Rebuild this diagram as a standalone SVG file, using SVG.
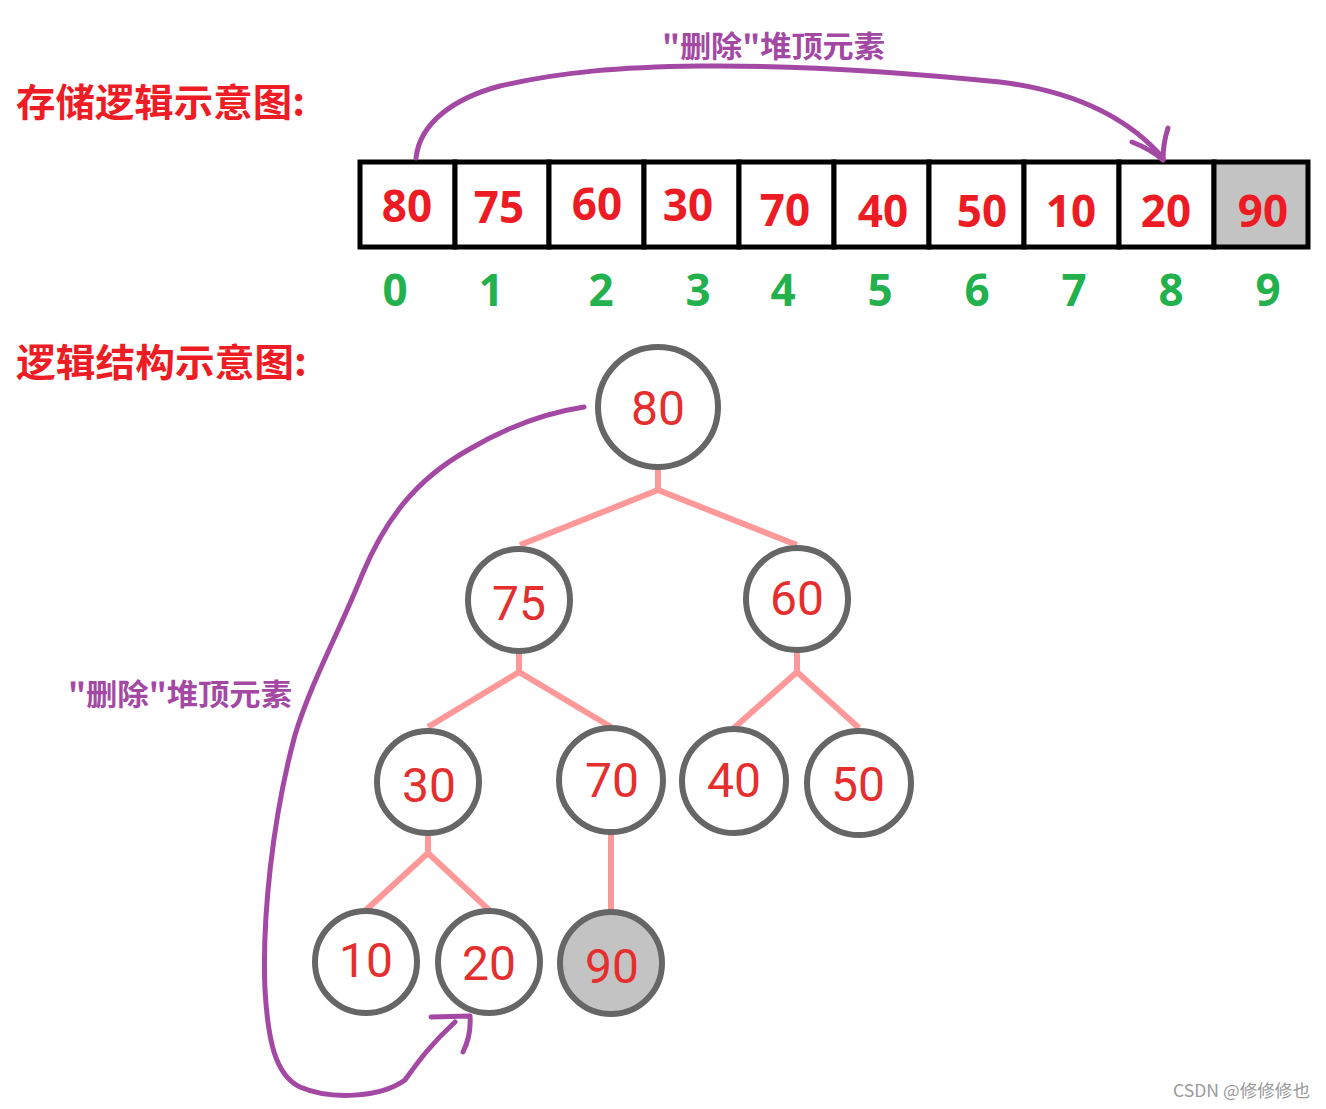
<svg xmlns="http://www.w3.org/2000/svg" width="1326" height="1109" viewBox="0 0 1326 1109">
<style>
.title{font-family:"Noto Sans CJK SC","Noto Sans",sans-serif;font-weight:bold;font-size:38px;fill:#ee1c24}
.lbl{font-family:"Noto Sans CJK SC","Noto Sans",sans-serif;font-weight:bold;font-size:30px;fill:#a349a4}
.cell{fill:#fff;stroke:#000;stroke-width:5}
.cnum{font-family:"Noto Sans","Noto Sans CJK SC",sans-serif;font-weight:bold;font-size:44px;fill:#ed1c24;text-anchor:middle}
.idx{font-family:"Noto Sans","Noto Sans CJK SC",sans-serif;font-weight:bold;font-size:44px;fill:#22b14c;text-anchor:middle}
.node{fill:#fff;stroke:#666;stroke-width:6}
.tnum{font-family:Roboto,"Liberation Sans",sans-serif;font-size:48px;fill:#e52e2e;text-anchor:middle}
.edge{fill:none;stroke:#ff9999;stroke-width:6}
.pur{fill:none;stroke:#a349a4;stroke-width:5;stroke-linecap:round;stroke-linejoin:round}
</style>
<rect width="1326" height="1109" fill="#fff"/>
<text class="title" x="16" y="116" textLength="289" lengthAdjust="spacingAndGlyphs">存储逻辑示意图:</text>
<text class="title" x="16" y="376" textLength="291" lengthAdjust="spacingAndGlyphs">逻辑结构示意图:</text>

<g id="array">
<rect class="cell" x="360" y="162" width="95" height="85"/>
<rect class="cell" x="455" y="162" width="94" height="85"/>
<rect class="cell" x="549" y="162" width="95" height="85"/>
<rect class="cell" x="644" y="162" width="95" height="85"/>
<rect class="cell" x="739" y="162" width="95" height="85"/>
<rect class="cell" x="834" y="162" width="95" height="85"/>
<rect class="cell" x="929" y="162" width="95" height="85"/>
<rect class="cell" x="1024" y="162" width="95" height="85"/>
<rect class="cell" x="1119" y="162" width="95" height="85"/>
<rect class="cell" x="1214" y="162" width="94" height="85" style="fill:#c3c3c3"/>
<text class="cnum" x="407" y="222">80</text>
<text class="cnum" x="499" y="223">75</text>
<text class="cnum" x="597" y="220">60</text>
<text class="cnum" x="688" y="221">30</text>
<text class="cnum" x="785" y="226">70</text>
<text class="cnum" x="883" y="227">40</text>
<text class="cnum" x="982" y="227">50</text>
<text class="cnum" x="1071" y="227">10</text>
<text class="cnum" x="1166" y="227">20</text>
<text class="cnum" x="1263" y="227">90</text>
<text class="idx" x="395" y="306">0</text>
<text class="idx" x="491" y="306">1</text>
<text class="idx" x="601" y="306">2</text>
<text class="idx" x="698" y="306">3</text>
<text class="idx" x="783" y="306">4</text>
<text class="idx" x="880" y="306">5</text>
<text class="idx" x="977" y="306">6</text>
<text class="idx" x="1074" y="306">7</text>
<text class="idx" x="1171" y="306">8</text>
<text class="idx" x="1268" y="306">9</text>
</g>

<g id="connectors">
<polyline class="edge" points="520,545 658,490 797,545"/>
<line class="edge" x1="658" y1="468" x2="658" y2="490"/>
<polyline class="edge" points="428,727 519,672 611,727"/>
<line class="edge" x1="519" y1="650" x2="519" y2="672"/>
<polyline class="edge" points="734,728 797,672 859,728"/>
<line class="edge" x1="797" y1="650" x2="797" y2="672"/>
<polyline class="edge" points="366,910 428,853 489,910"/>
<line class="edge" x1="428" y1="832" x2="428" y2="853"/>
<line class="edge" x1="611" y1="830" x2="611" y2="912"/>
</g>

<g id="n80"><circle class="node" cx="658" cy="407" r="60"/><text class="tnum" x="658" y="425">80</text></g>
<g id="n75"><circle class="node" cx="519" cy="600" r="51"/><text class="tnum" x="519" y="620">75</text></g>
<g id="n60"><circle class="node" cx="797" cy="599" r="51"/><text class="tnum" x="797" y="615">60</text></g>
<g id="n30"><circle class="node" cx="428" cy="782" r="51"/><text class="tnum" x="429" y="802">30</text></g>
<g id="n70"><circle class="node" cx="611" cy="780" r="52"/><text class="tnum" x="612" y="797">70</text></g>
<g id="n40"><circle class="node" cx="734" cy="781" r="52"/><text class="tnum" x="734" y="797">40</text></g>
<g id="n50"><circle class="node" cx="859" cy="783" r="52"/><text class="tnum" x="858" y="801">50</text></g>
<g id="n10"><circle class="node" cx="366" cy="962" r="51"/><text class="tnum" x="366" y="977">10</text></g>
<g id="n20"><circle class="node" cx="489" cy="962" r="51"/><text class="tnum" x="489" y="980">20</text></g>
<g id="n90"><circle class="node" cx="611" cy="963" r="51" style="fill:#c3c3c3"/><text class="tnum" x="612" y="983">90</text></g>

<g id="annotations">
<path class="pur" d="M416,158 C420,122 455,98 500,86 C560,72 620,67 700,66 C800,65 900,72 1000,82 C1080,92 1130,120 1163,158"/>
<path class="pur" d="M1168,128 C1164,140 1163,150 1163,160 M1132,142 C1145,147 1155,153 1163,160"/>
<text class="lbl" x="662" y="57" textLength="223" lengthAdjust="spacingAndGlyphs">"删除"堆顶元素</text>
<path class="pur" d="M584,407 C545,413 505,428 468,450 C415,480 385,520 362,575 C340,630 312,680 295,735 C272,820 262,920 265,990 C268,1040 275,1075 300,1087 C330,1100 380,1098 405,1080 C418,1062 430,1045 455,1022"/>
<path class="pur" d="M431,1017 L470,1016 C471,1030 468,1042 463,1052"/>
<text class="lbl" x="68" y="705" textLength="224" lengthAdjust="spacingAndGlyphs">"删除"堆顶元素</text>
</g>
<text x="1173" y="1097" textLength="137" lengthAdjust="spacingAndGlyphs" style="font-family:'Noto Sans CJK SC','Liberation Sans',sans-serif;font-size:17px;fill:#9a9a9a">CSDN @修修修也</text>
</svg>
